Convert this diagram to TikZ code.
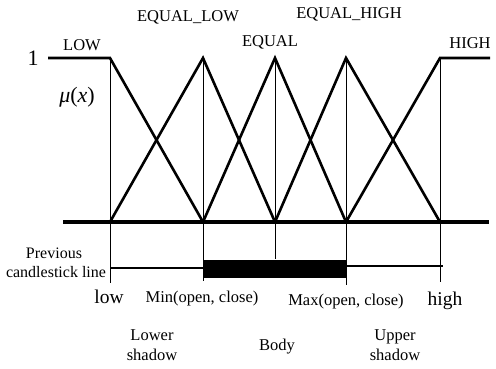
\documentclass[tikz,border=0pt]{standalone}
\usepackage{fontspec}
\setmainfont{Liberation Serif}
\begin{document}
\begin{tikzpicture}[x=1pt,y=-1pt,
  mf/.style={line width=2.6pt,line join=miter},
  guide/.style={line width=0.8pt},
  axisline/.style={line width=3.6pt},
  shadowline/.style={line width=2.8pt},
  lbl/.style={inner sep=0pt,font=\fontsize{16.5}{20}\selectfont,align=center},
  biglbl/.style={inner sep=0pt,font=\fontsize{19.5}{22}\selectfont}]
\useasboundingbox (0,0) rectangle (496,369);
% key points
\coordinate (L0) at (48,58);
\coordinate (aT) at (110,58);  \coordinate (aB) at (110,222);
\coordinate (bT) at (203,58);  \coordinate (bB) at (203,222);
\coordinate (cT) at (275,58);  \coordinate (cB) at (275,222);
\coordinate (dT) at (346,58);  \coordinate (dB) at (346,222);
\coordinate (eT) at (440,58);  \coordinate (eB) at (440,222);
\coordinate (H1) at (490,58);
\coordinate (axL) at (63,222); \coordinate (axR) at (489,222);
% guide ends
\coordinate (aE) at (110,283);
\coordinate (bE) at (203,281);
\coordinate (cE) at (275,259);
\coordinate (dE) at (346,285);
\coordinate (eE) at (440,282);
% guides
\draw[guide] (aT) -- (aE);
\draw[guide] (bT) -- (bE);
\draw[guide] (cT) -- (cE);
\draw[guide] (dT) -- (dE);
\draw[guide] (eT) -- (eE);
% axis
\draw[axisline] (axL) -- (axR);
% membership functions
\draw[mf] (L0) -- (aT) -- (bB);
\draw[mf] (aB) -- (bT) -- (cB);
\draw[mf] (bB) -- (cT) -- (dB);
\draw[mf] (cB) -- (dT) -- (eB);
\draw[mf] (dB) -- (eT) -- (H1);
% candlestick
\coordinate (ls1) at (110,268); \coordinate (ls2) at (203,268);
\coordinate (us1) at (346,266); \coordinate (us2) at (443,266);
\draw[shadowline] (ls1) -- (ls2);
\draw[shadowline] (us1) -- (us2);
\fill (203,259.5) rectangle (346,277.5);
% labels
\node[biglbl,font=\fontsize{22}{24}\selectfont] (one) at (33,58) {1};
\node[lbl] (tlow) at (82,45) {LOW};
\node[lbl] (teqlow) at (188,17) {EQUAL\_LOW};
\node[lbl] (teq) at (270,42) {EQUAL};
\node[lbl] (teqhigh) at (349,14) {EQUAL\_HIGH};
\node[lbl] (thigh) at (470,43) {HIGH};
\node[biglbl,font=\fontsize{22}{24}\selectfont] (mu) at (77,97) {{\itshape μ}(\textit{x})};
\node[lbl,font=\fontsize{16}{19}\selectfont] (prev) at (54,253) {Previous};
\node[lbl,font=\fontsize{16}{19}\selectfont] (cand) at (56,272) {candlestick line};
\node[biglbl] (xlow) at (109,297) {low};
\node[lbl] (xmin) at (202,299) {Min(open, close)};
\node[lbl] (xmax) at (346,302) {Max(open, close)};
\node[biglbl] (xhigh) at (445,301) {high};
\node[lbl] (lsh) at (152,345) {Lower\\shadow};
\node[lbl] (body) at (277,347) {Body};
\node[lbl] (ush) at (395,345) {Upper\\shadow};
\end{tikzpicture}
\end{document}
